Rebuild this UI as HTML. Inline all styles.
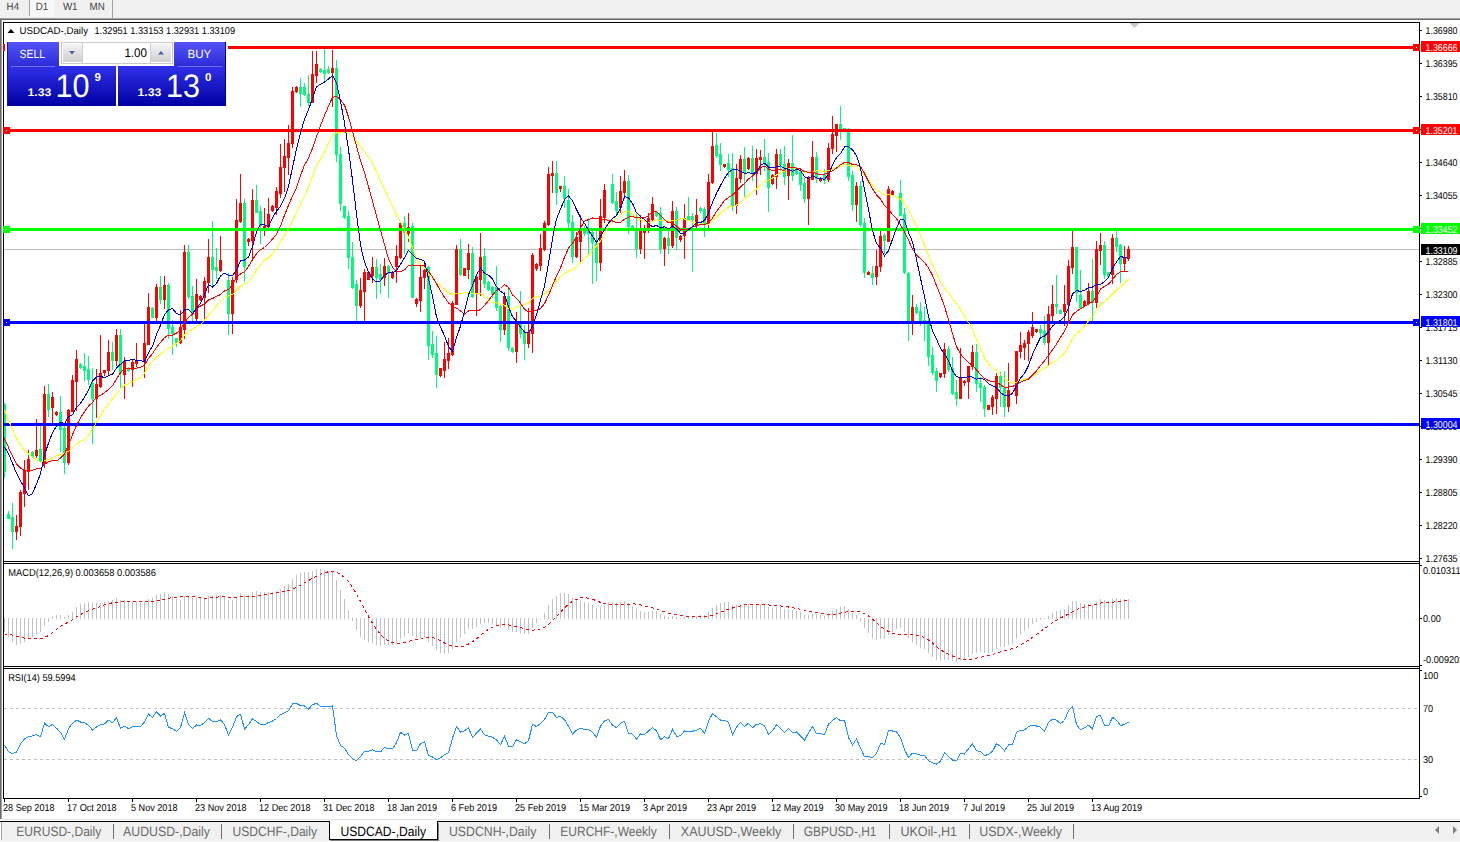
<!DOCTYPE html><html><head><meta charset="utf-8"><title>USDCAD-,Daily</title>
<style>html,body{margin:0;padding:0;background:#fff;overflow:hidden}body{width:1460px;height:842px;position:relative;font-family:"Liberation Sans",sans-serif}svg{position:absolute;left:0;top:0;display:block}text{font-family:"Liberation Sans",sans-serif;text-rendering:geometricPrecision}.ax{font-size:10px;fill:#000}.tab{font-size:13.5px;fill:#6e6e6e}.cr{shape-rendering:crispEdges}</style></head><body>
<svg width="1460" height="842" viewBox="0 0 1460 842">
<defs><linearGradient id="gb" x1="0" y1="0" x2="0" y2="1"><stop offset="0" stop-color="#5454fa"/><stop offset="1" stop-color="#2a2ad8"/></linearGradient><linearGradient id="gp" x1="0" y1="0" x2="0" y2="1"><stop offset="0" stop-color="#3030e8"/><stop offset="1" stop-color="#0000a4"/></linearGradient><linearGradient id="gs" x1="0" y1="0" x2="0" y2="1"><stop offset="0" stop-color="#f4f4f4"/><stop offset="1" stop-color="#cfcfcf"/></linearGradient></defs>
<g class="cr">
<rect x="0" y="0" width="1460" height="842" fill="#fff"/>
<rect x="0" y="0" width="1460" height="18" fill="#f0f0f0"/>
<rect x="0" y="18" width="1460" height="1" fill="#a0a0a0"/>
<rect x="0" y="19" width="1460" height="1" fill="#696969"/>
<rect x="0" y="20" width="1" height="799" fill="#696969"/>
<rect x="1" y="20" width="1" height="799" fill="#a0a0a0"/>
<rect x="29" y="0" width="1" height="16" fill="#a0a0a0"/>
<rect x="30" y="0" width="24" height="17" fill="#f8f8f8"/>
<rect x="112" y="0" width="1" height="18" fill="#a0a0a0"/>
<rect x="0" y="819" width="1460" height="1" fill="#e3e3e3"/>
<rect x="0" y="821" width="1460" height="1" fill="#000"/>
<rect x="0" y="822" width="1460" height="19" fill="#f0f0f0"/>
<rect x="4" y="249" width="1415" height="1" fill="#c0c0c0"/>
</g>
<g class="cr"><path fill="#00fa7d" d="M4 403h1v75h-1zM3 404h3v68h-3zM8 511h1v8h-1zM7 514h3v5h-3zM12 503h1v46h-1zM11 517h3v15h-3zM32 451h1v7h-1zM31 452h3v5h-3zM40 426h1v36h-1zM39 449h3v12h-3zM48 384h1v33h-1zM47 394h3v16h-3zM60 396h1v56h-1zM59 412h3v18h-3zM64 426h1v48h-1zM63 428h3v35h-3zM80 363h1v6h-1zM79 364h3v4h-3zM84 353h1v28h-1zM83 366h3v5h-3zM88 356h1v29h-1zM87 369h3v11h-3zM92 368h1v76h-1zM91 383h3v16h-3zM112 342h1v28h-1zM111 352h3v9h-3zM120 329h1v59h-1zM119 335h3v38h-3zM128 367h1v5h-1zM127 368h3v3h-3zM152 307h1v11h-1zM151 308h3v10h-3zM160 276h1v28h-1zM159 287h3v13h-3zM168 283h1v56h-1zM167 285h3v44h-3zM172 320h1v35h-1zM171 327h3v7h-3zM176 338h1v9h-1zM175 338h3v5h-3zM188 245h1v54h-1zM187 252h3v45h-3zM192 286h1v35h-1zM191 296h3v18h-3zM212 221h1v67h-1zM211 257h3v13h-3zM216 248h1v31h-1zM215 267h3v4h-3zM228 273h1v62h-1zM227 280h3v34h-3zM244 199h1v83h-1zM243 203h3v64h-3zM256 185h1v28h-1zM255 200h3v13h-3zM260 206h1v38h-1zM259 211h3v15h-3zM300 78h1v29h-1zM299 87h3v7h-3zM304 83h1v13h-1zM303 87h3v8h-3zM308 75h1v31h-1zM307 94h3v9h-3zM320 68h1v5h-1zM319 69h3v3h-3zM324 49h1v33h-1zM323 70h3v4h-3zM328 66h1v8h-1zM327 69h3v4h-3zM336 60h1v102h-1zM335 68h3v87h-3zM340 147h1v64h-1zM339 154h3v50h-3zM344 206h1v13h-1zM343 206h3v12h-3zM348 211h1v58h-1zM347 216h3v42h-3zM352 242h1v47h-1zM351 257h3v31h-3zM356 280h1v43h-1zM355 284h3v22h-3zM376 259h1v40h-1zM375 267h3v11h-3zM380 264h1v30h-1zM379 274h3v6h-3zM388 265h1v33h-1zM387 266h3v8h-3zM404 216h1v38h-1zM403 223h3v10h-3zM412 223h1v75h-1zM411 226h3v72h-3zM428 266h1v94h-1zM427 267h3v79h-3zM432 331h1v27h-1zM431 344h3v11h-3zM436 336h1v52h-1zM435 353h3v22h-3zM460 239h1v37h-1zM459 249h3v26h-3zM472 247h1v51h-1zM471 253h3v44h-3zM484 248h1v40h-1zM483 256h3v28h-3zM488 281h1v10h-1zM487 282h3v8h-3zM492 286h1v12h-1zM491 287h3v8h-3zM496 266h1v45h-1zM495 287h3v21h-3zM500 305h1v37h-1zM499 306h3v24h-3zM508 287h1v64h-1zM507 296h3v52h-3zM512 347h1v6h-1zM511 348h3v4h-3zM520 291h1v47h-1zM519 321h3v13h-3zM524 325h1v35h-1zM523 332h3v12h-3zM556 161h1v44h-1zM555 173h3v20h-3zM564 176h1v32h-1zM563 186h3v13h-3zM568 189h1v40h-1zM567 200h3v23h-3zM572 215h1v48h-1zM571 222h3v35h-3zM584 226h1v10h-1zM583 229h3v5h-3zM588 218h1v37h-1zM587 228h3v6h-3zM592 228h1v56h-1zM591 232h3v11h-3zM596 230h1v51h-1zM595 243h3v20h-3zM612 174h1v30h-1zM611 184h3v19h-3zM616 192h1v22h-1zM615 201h3v10h-3zM628 175h1v59h-1zM627 181h3v46h-3zM632 225h1v4h-1zM631 226h3v3h-3zM636 214h1v44h-1zM635 228h3v21h-3zM656 211h1v6h-1zM655 212h3v4h-3zM660 207h1v47h-1zM659 213h3v36h-3zM668 231h1v23h-1zM667 238h3v8h-3zM676 207h1v43h-1zM675 211h3v27h-3zM688 197h1v24h-1zM687 216h3v4h-3zM692 213h1v59h-1zM691 216h3v4h-3zM700 207h1v6h-1zM699 208h3v3h-3zM704 207h1v30h-1zM703 209h3v15h-3zM716 133h1v25h-1zM715 145h3v11h-3zM720 143h1v28h-1zM719 154h3v11h-3zM728 154h1v23h-1zM727 163h3v7h-3zM732 153h1v58h-1zM731 168h3v38h-3zM744 147h1v50h-1zM743 159h3v14h-3zM752 146h1v35h-1zM751 158h3v15h-3zM764 139h1v32h-1zM763 157h3v6h-3zM768 153h1v59h-1zM767 162h3v26h-3zM780 149h1v22h-1zM779 154h3v11h-3zM784 146h1v39h-1zM783 164h3v13h-3zM792 135h1v46h-1zM791 163h3v13h-3zM796 167h1v8h-1zM795 168h3v6h-3zM800 168h1v23h-1zM799 172h3v13h-3zM804 178h1v25h-1zM803 183h3v16h-3zM816 152h1v31h-1zM815 157h3v22h-3zM824 169h1v15h-1zM823 175h3v6h-3zM840 106h1v34h-1zM839 124h3v8h-3zM844 128h1v3h-1zM843 128h3v2h-3zM848 128h1v53h-1zM847 131h3v46h-3zM852 171h1v40h-1zM851 175h3v30h-3zM860 181h1v46h-1zM859 186h3v39h-3zM864 218h1v60h-1zM863 223h3v50h-3zM872 266h1v19h-1zM871 273h3v5h-3zM884 233h1v21h-1zM883 235h3v6h-3zM900 180h1v36h-1zM899 193h3v23h-3zM904 208h1v66h-1zM903 214h3v59h-3zM908 272h1v69h-1zM907 273h3v50h-3zM916 304h1v10h-1zM915 307h3v6h-3zM920 302h1v24h-1zM919 311h3v11h-3zM924 307h1v34h-1zM923 320h3v3h-3zM928 318h1v48h-1zM927 324h3v33h-3zM932 347h1v28h-1zM931 355h3v18h-3zM936 368h1v24h-1zM935 371h3v10h-3zM948 346h1v26h-1zM947 349h3v21h-3zM952 357h1v38h-1zM951 368h3v26h-3zM956 380h1v26h-1zM955 392h3v7h-3zM976 344h1v48h-1zM975 352h3v32h-3zM980 377h1v25h-1zM979 383h3v5h-3zM984 385h1v32h-1zM983 387h3v22h-3zM1000 372h1v35h-1zM999 376h3v12h-3zM1004 371h1v46h-1zM1003 388h3v19h-3zM1040 325h1v13h-1zM1039 329h3v4h-3zM1044 316h1v29h-1zM1043 331h3v12h-3zM1056 275h1v39h-1zM1055 304h3v3h-3zM1060 309h1v5h-1zM1059 310h3v4h-3zM1076 247h1v55h-1zM1075 247h3v46h-3zM1080 270h1v39h-1zM1079 295h3v13h-3zM1092 259h1v64h-1zM1091 291h3v12h-3zM1104 241h1v38h-1zM1103 245h3v30h-3zM1108 272h1v5h-1zM1107 272h3v5h-3zM1116 231h1v21h-1zM1115 238h3v9h-3zM1120 244h1v39h-1zM1119 245h3v19h-3z"/><path fill="#ff0000" d="M16 515h1v25h-1zM15 526h3v6h-3zM20 490h1v46h-1zM19 492h3v35h-3zM24 460h1v47h-1zM23 470h3v24h-3zM28 450h1v40h-1zM27 459h3v13h-3zM36 419h1v39h-1zM35 450h3v6h-3zM44 386h1v82h-1zM43 394h3v70h-3zM52 392h1v31h-1zM51 397h3v11h-3zM56 411h1v5h-1zM55 412h3v3h-3zM68 409h1v56h-1zM67 410h3v53h-3zM72 375h1v37h-1zM71 380h3v32h-3zM76 350h1v61h-1zM75 359h3v23h-3zM96 369h1v49h-1zM95 384h3v15h-3zM100 335h1v53h-1zM99 373h3v14h-3zM104 370h1v6h-1zM103 370h3v3h-3zM108 340h1v36h-1zM107 352h3v19h-3zM116 329h1v37h-1zM115 335h3v26h-3zM124 357h1v42h-1zM123 361h3v14h-3zM132 359h1v28h-1zM131 362h3v8h-3zM136 343h1v24h-1zM135 360h3v4h-3zM144 324h1v54h-1zM143 343h3v19h-3zM148 293h1v52h-1zM147 307h3v38h-3zM156 284h1v38h-1zM155 287h3v31h-3zM164 276h1v33h-1zM163 285h3v15h-3zM180 310h1v34h-1zM179 327h3v16h-3zM184 245h1v94h-1zM183 252h3v78h-3zM196 279h1v42h-1zM195 294h3v25h-3zM200 295h1v6h-1zM199 296h3v4h-3zM204 277h1v43h-1zM203 281h3v17h-3zM208 239h1v54h-1zM207 257h3v26h-3zM220 236h1v36h-1zM219 260h3v11h-3zM232 277h1v57h-1zM231 280h3v34h-3zM236 199h1v84h-1zM235 220h3v60h-3zM240 174h1v49h-1zM239 203h3v19h-3zM248 238h1v8h-1zM247 239h3v3h-3zM252 189h1v71h-1zM251 200h3v41h-3zM264 208h1v28h-1zM263 226h3v3h-3zM268 198h1v30h-1zM267 214h3v13h-3zM272 205h1v7h-1zM271 206h3v5h-3zM276 187h1v28h-1zM275 191h3v17h-3zM280 144h1v54h-1zM279 167h3v27h-3zM284 139h1v53h-1zM283 156h3v12h-3zM288 125h1v50h-1zM287 143h3v15h-3zM292 87h1v61h-1zM291 91h3v53h-3zM296 86h1v7h-1zM295 87h3v5h-3zM312 51h1v52h-1zM311 74h3v29h-3zM316 51h1v32h-1zM315 64h3v12h-3zM332 50h1v57h-1zM331 68h3v5h-3zM360 278h1v30h-1zM359 290h3v16h-3zM364 269h1v54h-1zM363 272h3v20h-3zM368 272h1v8h-1zM367 272h3v8h-3zM372 257h1v26h-1zM371 267h3v9h-3zM384 258h1v28h-1zM383 266h3v12h-3zM392 271h1v8h-1zM391 272h3v6h-3zM396 245h1v38h-1zM395 256h3v11h-3zM400 222h1v37h-1zM399 223h3v35h-3zM408 213h1v29h-1zM407 227h3v7h-3zM416 298h1v9h-1zM415 299h3v5h-3zM420 266h1v46h-1zM419 277h3v24h-3zM424 261h1v28h-1zM423 270h3v8h-3zM440 368h1v9h-1zM439 368h3v8h-3zM444 342h1v36h-1zM443 359h3v12h-3zM448 338h1v31h-1zM447 353h3v8h-3zM452 301h1v55h-1zM451 303h3v52h-3zM456 245h1v60h-1zM455 249h3v56h-3zM464 268h1v8h-1zM463 268h3v8h-3zM468 244h1v35h-1zM467 253h3v17h-3zM476 275h1v41h-1zM475 277h3v17h-3zM480 233h1v63h-1zM479 257h3v23h-3zM504 292h1v43h-1zM503 296h3v34h-3zM516 312h1v51h-1zM515 323h3v29h-3zM528 308h1v40h-1zM527 332h3v12h-3zM532 253h1v100h-1zM531 255h3v79h-3zM536 263h1v8h-1zM535 264h3v5h-3zM540 234h1v37h-1zM539 248h3v18h-3zM544 221h1v30h-1zM543 223h3v27h-3zM548 167h1v59h-1zM547 174h3v51h-3zM552 161h1v32h-1zM551 173h3v3h-3zM560 186h1v6h-1zM559 186h3v3h-3zM576 232h1v26h-1zM575 237h3v20h-3zM580 215h1v48h-1zM579 228h3v14h-3zM600 199h1v72h-1zM599 216h3v47h-3zM604 184h1v39h-1zM603 190h3v28h-3zM620 176h1v37h-1zM619 191h3v17h-3zM624 170h1v29h-1zM623 181h3v12h-3zM640 215h1v39h-1zM639 229h3v20h-3zM644 225h1v34h-1zM643 231h3v2h-3zM648 213h1v20h-1zM647 218h3v11h-3zM652 197h1v24h-1zM651 204h3v16h-3zM664 237h1v29h-1zM663 238h3v11h-3zM672 201h1v47h-1zM671 211h3v35h-3zM680 235h1v7h-1zM679 236h3v4h-3zM684 204h1v55h-1zM683 218h3v18h-3zM696 199h1v30h-1zM695 215h3v11h-3zM708 174h1v55h-1zM707 182h3v42h-3zM712 132h1v52h-1zM711 146h3v37h-3zM724 164h1v4h-1zM723 164h3v3h-3zM736 164h1v50h-1zM735 178h3v28h-3zM740 155h1v28h-1zM739 159h3v20h-3zM748 157h1v13h-1zM747 158h3v11h-3zM756 149h1v46h-1zM755 158h3v16h-3zM760 150h1v25h-1zM759 157h3v3h-3zM772 174h1v11h-1zM771 175h3v9h-3zM776 149h1v40h-1zM775 154h3v23h-3zM788 159h1v41h-1zM787 163h3v13h-3zM808 176h1v49h-1zM807 177h3v22h-3zM812 141h1v39h-1zM811 157h3v23h-3zM820 177h1v5h-1zM819 178h3v3h-3zM828 143h1v39h-1zM827 148h3v32h-3zM832 116h1v38h-1zM831 134h3v15h-3zM836 124h1v28h-1zM835 124h3v12h-3zM856 182h1v40h-1zM855 186h3v19h-3zM868 271h1v4h-1zM867 272h3v3h-3zM876 250h1v35h-1zM875 266h3v11h-3zM880 231h1v41h-1zM879 236h3v31h-3zM888 186h1v56h-1zM887 189h3v53h-3zM892 190h1v5h-1zM891 191h3v4h-3zM912 295h1v40h-1zM911 307h3v16h-3zM940 373h1v5h-1zM939 373h3v4h-3zM944 343h1v35h-1zM943 349h3v25h-3zM960 348h1v51h-1zM959 377h3v22h-3zM964 380h1v6h-1zM963 381h3v2h-3zM968 366h1v33h-1zM967 366h3v16h-3zM972 345h1v25h-1zM971 352h3v15h-3zM988 405h1v5h-1zM987 405h3v5h-3zM992 395h1v20h-1zM991 397h3v10h-3zM996 373h1v41h-1zM995 376h3v23h-3zM1008 363h1v49h-1zM1007 390h3v17h-3zM1016 351h1v53h-1zM1015 351h3v45h-3zM1020 332h1v26h-1zM1019 345h3v7h-3zM1024 340h1v20h-1zM1023 343h3v5h-3zM1028 330h1v31h-1zM1027 332h3v12h-3zM1032 312h1v26h-1zM1031 327h3v9h-3zM1036 329h1v4h-1zM1035 329h3v3h-3zM1048 306h1v60h-1zM1047 314h3v29h-3zM1052 285h1v36h-1zM1051 304h3v12h-3zM1064 285h1v41h-1zM1063 304h3v8h-3zM1068 260h1v61h-1zM1067 266h3v39h-3zM1072 231h1v43h-1zM1071 247h3v21h-3zM1084 300h1v6h-1zM1083 301h3v5h-3zM1088 283h1v22h-1zM1087 291h3v13h-3zM1096 241h1v67h-1zM1095 249h3v54h-3zM1100 233h1v32h-1zM1099 245h3v6h-3zM1112 234h1v50h-1zM1111 238h3v37h-3zM1124 246h1v25h-1zM1123 258h3v6h-3zM1128 246h1v15h-1zM1127 249h3v10h-3z"/></g>
<g class="cr">
<rect x="4" y="46" width="1415" height="3" fill="#ff0000"/>
<rect x="4" y="129" width="1415" height="3" fill="#ff0000"/>
<rect x="4" y="228" width="1415" height="3" fill="#00ff00"/>
<rect x="4" y="321" width="1415" height="3" fill="#0000ff"/>
<rect x="4" y="423" width="1415" height="3" fill="#0000ff"/>
</g>
<polyline fill="none" stroke="#ffff00" stroke-width="1" shape-rendering="crispEdges" points="4.5,410.2 8.5,419.8 12.5,429.6 16.5,438.6 20.5,445.4 24.5,450.3 28.5,454.0 32.5,456.9 36.5,459.6 40.5,462.1 44.5,460.9 48.5,459.7 52.5,457.6 56.5,455.8 60.5,454.2 64.5,453.8 68.5,451.2 72.5,447.6 76.5,443.8 80.5,441.3 84.5,439.6 88.5,435.3 92.5,429.5 96.5,422.5 100.5,415.3 104.5,409.5 108.5,403.8 112.5,399.1 116.5,393.4 120.5,389.6 124.5,384.9 128.5,383.8 132.5,381.5 136.5,379.8 140.5,377.4 144.5,373.3 148.5,365.9 152.5,361.5 156.5,357.0 160.5,354.2 164.5,350.3 168.5,348.3 172.5,346.1 176.5,343.4 180.5,340.7 184.5,334.9 188.5,331.4 192.5,329.5 196.5,326.4 200.5,324.5 204.5,320.2 208.5,315.3 212.5,310.5 216.5,306.1 220.5,301.3 224.5,297.2 228.5,295.8 232.5,294.5 236.5,289.9 240.5,285.9 244.5,284.3 248.5,282.1 252.5,276.0 256.5,270.3 260.5,264.7 264.5,259.9 268.5,258.1 272.5,253.8 276.5,248.0 280.5,241.9 284.5,235.3 288.5,228.7 292.5,220.8 296.5,212.1 300.5,203.7 304.5,195.8 308.5,187.5 312.5,176.2 316.5,165.9 320.5,158.8 324.5,152.6 328.5,143.4 332.5,135.2 336.5,133.0 340.5,132.6 344.5,132.2 348.5,133.7 352.5,137.2 356.5,141.9 360.5,146.6 364.5,151.6 368.5,157.1 372.5,163.0 376.5,171.9 380.5,181.0 384.5,189.3 388.5,197.8 392.5,205.9 396.5,214.5 400.5,222.1 404.5,229.8 408.5,237.1 412.5,247.8 416.5,258.8 420.5,264.7 424.5,267.9 428.5,274.0 432.5,278.6 436.5,282.7 440.5,285.7 444.5,289.0 448.5,292.9 452.5,294.4 456.5,293.5 460.5,293.4 464.5,292.8 468.5,292.2 472.5,293.3 476.5,293.5 480.5,293.6 484.5,296.5 488.5,299.2 492.5,302.4 496.5,302.8 500.5,304.3 504.5,305.2 508.5,308.8 512.5,309.1 516.5,307.6 520.5,305.7 524.5,304.5 528.5,303.2 532.5,298.5 536.5,296.7 540.5,296.6 544.5,294.2 548.5,289.7 552.5,285.9 556.5,281.0 560.5,276.6 564.5,273.8 568.5,270.9 572.5,269.4 576.5,266.6 580.5,262.9 584.5,258.3 588.5,255.3 592.5,250.3 596.5,246.1 600.5,241.0 604.5,234.2 608.5,226.5 612.5,220.3 616.5,218.2 620.5,214.7 624.5,211.5 628.5,211.6 632.5,214.2 636.5,217.8 640.5,219.5 644.5,221.7 648.5,222.6 652.5,221.8 656.5,219.8 660.5,220.4 664.5,220.8 668.5,221.4 672.5,220.4 676.5,220.1 680.5,218.9 684.5,219.0 688.5,220.4 692.5,222.1 696.5,222.7 700.5,222.7 704.5,224.3 708.5,224.3 712.5,220.5 716.5,217.0 720.5,213.0 724.5,209.9 728.5,207.0 732.5,206.4 736.5,205.1 740.5,202.5 744.5,198.8 748.5,195.0 752.5,191.5 756.5,189.0 760.5,185.2 764.5,181.7 768.5,180.2 772.5,178.1 776.5,175.0 780.5,172.6 784.5,171.0 788.5,168.1 792.5,167.8 796.5,169.1 800.5,170.5 804.5,172.1 808.5,172.7 812.5,172.1 816.5,170.8 820.5,170.8 824.5,171.8 828.5,170.7 832.5,169.5 836.5,167.3 840.5,166.0 844.5,164.6 848.5,165.3 852.5,166.1 856.5,166.6 860.5,170.0 864.5,175.1 868.5,179.7 872.5,185.1 876.5,189.5 880.5,192.5 884.5,195.1 888.5,194.7 892.5,195.4 896.5,197.1 900.5,198.9 904.5,203.4 908.5,210.1 912.5,217.7 916.5,226.2 920.5,235.5 924.5,244.6 928.5,255.5 932.5,264.8 936.5,273.2 940.5,282.1 944.5,288.0 948.5,292.6 952.5,298.4 956.5,304.2 960.5,309.5 964.5,316.4 968.5,322.4 972.5,330.1 976.5,339.3 980.5,348.5 984.5,357.6 988.5,364.0 992.5,367.5 996.5,370.8 1000.5,374.4 1004.5,378.5 1008.5,381.7 1012.5,383.3 1016.5,382.3 1020.5,380.6 1024.5,379.2 1028.5,378.4 1032.5,376.4 1036.5,373.3 1040.5,370.2 1044.5,368.5 1048.5,365.3 1052.5,362.4 1056.5,360.2 1060.5,356.8 1064.5,352.9 1068.5,346.1 1072.5,338.6 1076.5,333.6 1080.5,330.3 1084.5,326.2 1088.5,320.7 1092.5,316.5 1096.5,309.9 1100.5,304.8 1104.5,301.5 1108.5,298.3 1112.5,293.8 1116.5,289.9 1120.5,286.8 1124.5,283.3 1128.5,278.8"/>
<polyline fill="none" stroke="#ff0000" stroke-width="1" shape-rendering="crispEdges" points="4.5,438.5 8.5,447.5 12.5,456.3 16.5,463.9 20.5,468.1 24.5,470.1 28.5,470.7 32.5,470.3 36.5,468.9 40.5,468.5 44.5,464.1 48.5,461.9 52.5,460.3 56.5,460.9 60.5,457.9 64.5,453.9 68.5,445.2 72.5,434.8 76.5,425.3 80.5,417.9 84.5,411.6 88.5,406.1 92.5,402.4 96.5,396.9 100.5,395.4 104.5,392.6 108.5,389.4 112.5,385.7 116.5,379.0 120.5,372.6 124.5,369.1 128.5,368.4 132.5,368.6 136.5,368.1 140.5,367.4 144.5,364.9 148.5,358.4 152.5,353.6 156.5,347.4 160.5,342.4 164.5,337.6 168.5,335.3 172.5,335.1 176.5,333.0 180.5,330.6 184.5,322.1 188.5,317.4 192.5,314.1 196.5,309.3 200.5,305.9 204.5,304.1 208.5,299.8 212.5,298.5 216.5,296.4 220.5,294.6 224.5,290.9 228.5,289.4 232.5,285.0 236.5,277.4 240.5,273.9 244.5,271.7 248.5,266.4 252.5,259.7 256.5,253.7 260.5,249.7 264.5,247.5 268.5,243.6 272.5,239.0 276.5,234.1 280.5,226.4 284.5,215.1 288.5,205.4 292.5,196.1 296.5,187.9 300.5,175.5 304.5,165.1 308.5,158.1 312.5,148.3 316.5,136.8 320.5,125.7 324.5,115.6 328.5,106.1 332.5,97.3 336.5,96.4 340.5,99.7 344.5,105.0 348.5,116.9 352.5,131.1 356.5,146.3 360.5,160.3 364.5,172.4 368.5,186.6 372.5,201.1 376.5,215.8 380.5,230.5 384.5,244.4 388.5,259.0 392.5,267.4 396.5,271.2 400.5,271.6 404.5,269.9 408.5,265.6 412.5,265.0 416.5,265.6 420.5,266.0 424.5,265.9 428.5,271.4 432.5,276.9 436.5,283.7 440.5,291.0 444.5,297.1 448.5,302.9 452.5,306.3 456.5,308.1 460.5,311.1 464.5,314.1 468.5,310.9 472.5,310.7 476.5,310.7 480.5,309.8 484.5,305.4 488.5,300.7 492.5,295.0 496.5,290.6 500.5,288.5 504.5,284.4 508.5,287.6 512.5,294.9 516.5,298.4 520.5,303.0 524.5,309.4 528.5,312.0 532.5,310.4 536.5,310.9 540.5,308.4 544.5,303.7 548.5,295.1 552.5,285.6 556.5,275.8 560.5,267.9 564.5,257.3 568.5,248.1 572.5,243.3 576.5,236.4 580.5,228.2 584.5,221.1 588.5,219.6 592.5,218.0 596.5,219.0 600.5,218.5 604.5,219.6 608.5,220.3 612.5,221.0 616.5,222.7 620.5,222.2 624.5,219.3 628.5,217.1 632.5,216.5 636.5,217.9 640.5,217.6 644.5,217.5 648.5,215.8 652.5,211.6 656.5,211.6 660.5,215.7 664.5,219.7 668.5,222.8 672.5,222.9 676.5,226.1 680.5,230.1 684.5,229.5 688.5,228.9 692.5,226.8 696.5,225.8 700.5,224.3 704.5,224.6 708.5,223.1 712.5,218.1 716.5,211.5 720.5,206.2 724.5,200.4 728.5,197.4 732.5,195.1 736.5,191.0 740.5,186.8 744.5,183.4 748.5,179.1 752.5,176.0 756.5,172.3 760.5,167.6 764.5,166.1 768.5,169.1 772.5,170.5 776.5,169.8 780.5,169.8 784.5,170.3 788.5,167.3 792.5,167.1 796.5,168.1 800.5,168.9 804.5,171.8 808.5,172.1 812.5,172.1 816.5,173.6 820.5,174.7 824.5,174.2 828.5,172.3 832.5,170.9 836.5,168.0 840.5,164.8 844.5,162.4 848.5,162.4 852.5,164.6 856.5,164.8 860.5,166.6 864.5,173.4 868.5,181.6 872.5,188.7 876.5,195.0 880.5,199.0 884.5,205.6 888.5,209.5 892.5,214.3 896.5,218.8 900.5,224.9 904.5,231.8 908.5,240.2 912.5,248.9 916.5,255.1 920.5,258.6 924.5,262.2 928.5,267.9 932.5,275.4 936.5,285.7 940.5,295.2 944.5,306.6 948.5,319.4 952.5,333.6 956.5,346.6 960.5,354.1 964.5,358.4 968.5,362.6 972.5,365.4 976.5,369.9 980.5,374.5 984.5,378.2 988.5,380.6 992.5,381.8 996.5,382.0 1000.5,384.7 1004.5,387.4 1008.5,387.1 1012.5,386.5 1016.5,384.6 1020.5,382.1 1024.5,380.4 1028.5,379.0 1032.5,375.0 1036.5,370.9 1040.5,365.4 1044.5,360.9 1048.5,355.0 1052.5,349.9 1056.5,344.1 1060.5,337.4 1064.5,331.3 1068.5,322.5 1072.5,315.1 1076.5,311.3 1080.5,308.7 1084.5,306.5 1088.5,303.9 1092.5,302.0 1096.5,296.1 1100.5,289.1 1104.5,286.3 1108.5,284.3 1112.5,279.4 1116.5,274.6 1120.5,271.7 1124.5,271.1 1128.5,271.3"/>
<polyline fill="none" stroke="#0000cd" stroke-width="1" shape-rendering="crispEdges" points="4.5,446.9 8.5,453.8 12.5,463.2 16.5,473.4 20.5,480.8 24.5,487.9 28.5,495.8 32.5,493.6 36.5,483.9 40.5,473.8 44.5,454.9 48.5,443.1 52.5,432.6 56.5,425.9 60.5,422.1 64.5,423.8 68.5,416.6 72.5,414.6 76.5,407.5 80.5,403.2 84.5,397.2 88.5,390.1 92.5,380.9 96.5,377.2 100.5,376.2 104.5,377.8 108.5,375.6 112.5,374.2 116.5,367.9 120.5,364.2 124.5,360.9 128.5,360.5 132.5,359.4 136.5,360.5 140.5,360.6 144.5,361.8 148.5,352.5 152.5,346.2 156.5,334.4 160.5,325.4 164.5,314.6 168.5,309.9 172.5,308.5 176.5,313.5 180.5,314.9 184.5,309.9 188.5,309.5 192.5,313.5 196.5,308.6 200.5,303.4 204.5,294.6 208.5,284.6 212.5,287.1 216.5,283.4 220.5,275.8 224.5,273.1 228.5,275.5 232.5,275.4 236.5,270.1 240.5,260.6 244.5,260.1 248.5,257.1 252.5,246.4 256.5,231.9 260.5,224.1 264.5,224.9 268.5,226.5 272.5,217.9 276.5,211.1 280.5,206.4 284.5,198.4 288.5,186.6 292.5,167.4 296.5,149.2 300.5,133.1 304.5,119.2 308.5,109.9 312.5,98.2 316.5,86.9 320.5,84.1 324.5,82.1 328.5,79.1 332.5,75.4 336.5,82.8 340.5,101.2 344.5,123.1 348.5,149.6 352.5,180.2 356.5,213.5 360.5,245.2 364.5,262.1 368.5,271.9 372.5,279.1 376.5,281.9 380.5,280.8 384.5,275.2 388.5,272.8 392.5,272.8 396.5,270.5 400.5,264.2 404.5,257.8 408.5,250.4 412.5,254.8 416.5,258.5 420.5,259.2 424.5,261.2 428.5,278.6 432.5,296.1 436.5,317.1 440.5,327.2 444.5,335.8 448.5,346.6 452.5,351.4 456.5,337.6 460.5,326.2 464.5,311.1 468.5,294.6 472.5,285.6 476.5,274.8 480.5,268.2 484.5,273.1 488.5,275.2 492.5,278.9 496.5,286.6 500.5,291.4 504.5,294.1 508.5,306.9 512.5,316.6 516.5,321.5 520.5,327.1 524.5,332.2 528.5,332.6 532.5,326.8 536.5,314.9 540.5,300.2 544.5,285.9 548.5,263.2 552.5,238.9 556.5,218.9 560.5,209.1 564.5,199.6 568.5,195.9 572.5,200.6 576.5,209.6 580.5,217.5 584.5,223.4 588.5,230.1 592.5,236.4 596.5,242.1 600.5,236.4 604.5,229.6 608.5,223.1 612.5,218.6 616.5,215.4 620.5,208.1 624.5,196.5 628.5,197.9 632.5,203.4 636.5,212.8 640.5,216.6 644.5,219.6 648.5,223.5 652.5,226.8 656.5,225.2 660.5,228.1 664.5,226.6 668.5,228.9 672.5,226.1 676.5,228.8 680.5,233.4 684.5,233.8 688.5,229.6 692.5,226.9 696.5,222.6 700.5,222.5 704.5,220.5 708.5,212.8 712.5,202.5 716.5,193.4 720.5,185.5 724.5,178.2 728.5,172.4 732.5,169.8 736.5,169.2 740.5,171.1 744.5,173.5 748.5,172.6 752.5,173.8 756.5,172.2 760.5,165.4 764.5,163.1 768.5,167.1 772.5,167.5 776.5,166.9 780.5,165.8 784.5,168.4 788.5,169.2 792.5,171.1 796.5,169.1 800.5,170.4 804.5,176.6 808.5,178.5 812.5,175.8 816.5,177.9 820.5,178.4 824.5,179.4 828.5,174.2 832.5,165.1 836.5,157.5 840.5,153.8 844.5,146.8 848.5,146.5 852.5,149.9 856.5,155.4 860.5,168.2 864.5,189.4 868.5,209.5 872.5,230.6 876.5,243.5 880.5,248.1 884.5,255.8 888.5,250.8 892.5,239.2 896.5,228.1 900.5,219.2 904.5,220.1 908.5,232.4 912.5,241.9 916.5,259.5 920.5,278.1 924.5,296.4 928.5,316.5 932.5,330.8 936.5,339.1 940.5,348.5 944.5,353.8 948.5,360.6 952.5,370.8 956.5,376.8 960.5,377.5 964.5,377.6 968.5,376.6 972.5,377.1 976.5,379.1 980.5,378.2 984.5,379.6 988.5,383.6 992.5,385.9 996.5,387.4 1000.5,392.4 1004.5,395.6 1008.5,396.1 1012.5,393.4 1016.5,385.6 1020.5,378.2 1024.5,373.5 1028.5,365.6 1032.5,354.4 1036.5,345.6 1040.5,337.5 1044.5,336.2 1048.5,331.8 1052.5,326.2 1056.5,322.5 1060.5,320.5 1064.5,316.9 1068.5,307.5 1072.5,293.9 1076.5,290.8 1080.5,291.2 1084.5,290.5 1088.5,287.4 1092.5,287.1 1096.5,284.6 1100.5,284.4 1104.5,281.8 1108.5,277.4 1112.5,268.4 1116.5,261.9 1120.5,256.4 1124.5,257.6 1128.5,258.2"/>
<g class="cr">
<rect x="0" y="20" width="3" height="800" fill="#fff"/>
<rect x="0" y="20" width="1" height="799" fill="#696969"/>
<rect x="1" y="20" width="1" height="799" fill="#a0a0a0"/>
<rect x="3" y="22" width="1417" height="1" fill="#000"/>
<rect x="3" y="22" width="1" height="777" fill="#000"/>
<rect x="1419" y="22" width="1" height="777" fill="#000"/>
<rect x="4" y="562" width="1415" height="1" fill="#fff"/>
<rect x="4" y="667" width="1415" height="1" fill="#fff"/>
<rect x="3" y="561" width="1417" height="1" fill="#000"/>
<rect x="3" y="563" width="1417" height="1" fill="#000"/>
<rect x="3" y="666" width="1417" height="1" fill="#000"/>
<rect x="3" y="668" width="1417" height="1" fill="#000"/>
<rect x="3" y="798" width="1417" height="1" fill="#000"/>
<rect x="1420" y="30" width="2" height="1" fill="#000"/>
<rect x="1420" y="63" width="2" height="1" fill="#000"/>
<rect x="1420" y="96" width="2" height="1" fill="#000"/>
<rect x="1420" y="129" width="2" height="1" fill="#000"/>
<rect x="1420" y="162" width="2" height="1" fill="#000"/>
<rect x="1420" y="195" width="2" height="1" fill="#000"/>
<rect x="1420" y="228" width="2" height="1" fill="#000"/>
<rect x="1420" y="261" width="2" height="1" fill="#000"/>
<rect x="1420" y="294" width="2" height="1" fill="#000"/>
<rect x="1420" y="327" width="2" height="1" fill="#000"/>
<rect x="1420" y="360" width="2" height="1" fill="#000"/>
<rect x="1420" y="393" width="2" height="1" fill="#000"/>
<rect x="1420" y="426" width="2" height="1" fill="#000"/>
<rect x="1420" y="459" width="2" height="1" fill="#000"/>
<rect x="1420" y="492" width="2" height="1" fill="#000"/>
<rect x="1420" y="525" width="2" height="1" fill="#000"/>
<rect x="1420" y="558" width="2" height="1" fill="#000"/>
<rect x="4" y="799" width="1" height="3" fill="#000"/>
<rect x="68" y="799" width="1" height="3" fill="#000"/>
<rect x="132" y="799" width="1" height="3" fill="#000"/>
<rect x="196" y="799" width="1" height="3" fill="#000"/>
<rect x="260" y="799" width="1" height="3" fill="#000"/>
<rect x="324" y="799" width="1" height="3" fill="#000"/>
<rect x="388" y="799" width="1" height="3" fill="#000"/>
<rect x="452" y="799" width="1" height="3" fill="#000"/>
<rect x="516" y="799" width="1" height="3" fill="#000"/>
<rect x="580" y="799" width="1" height="3" fill="#000"/>
<rect x="644" y="799" width="1" height="3" fill="#000"/>
<rect x="708" y="799" width="1" height="3" fill="#000"/>
<rect x="772" y="799" width="1" height="3" fill="#000"/>
<rect x="836" y="799" width="1" height="3" fill="#000"/>
<rect x="900" y="799" width="1" height="3" fill="#000"/>
<rect x="964" y="799" width="1" height="3" fill="#000"/>
<rect x="1028" y="799" width="1" height="3" fill="#000"/>
<rect x="1092" y="799" width="1" height="3" fill="#000"/>
<rect x="1420" y="565" width="2" height="1" fill="#000"/>
<rect x="1420" y="618" width="2" height="1" fill="#000"/>
<rect x="1420" y="665" width="2" height="1" fill="#000"/>
<rect x="1420" y="670" width="2" height="1" fill="#000"/>
<rect x="1420" y="796" width="2" height="1" fill="#000"/>
</g>
<text class="ax" x="1425.5" y="34" textLength="32" lengthAdjust="spacingAndGlyphs">1.36980</text>
<text class="ax" x="1425.5" y="67" textLength="32" lengthAdjust="spacingAndGlyphs">1.36395</text>
<text class="ax" x="1425.5" y="100" textLength="32" lengthAdjust="spacingAndGlyphs">1.35810</text>
<text class="ax" x="1425.5" y="133" textLength="32" lengthAdjust="spacingAndGlyphs">1.35225</text>
<text class="ax" x="1425.5" y="166" textLength="32" lengthAdjust="spacingAndGlyphs">1.34640</text>
<text class="ax" x="1425.5" y="199" textLength="32" lengthAdjust="spacingAndGlyphs">1.34055</text>
<text class="ax" x="1425.5" y="232" textLength="32" lengthAdjust="spacingAndGlyphs">1.33470</text>
<text class="ax" x="1425.5" y="265" textLength="32" lengthAdjust="spacingAndGlyphs">1.32885</text>
<text class="ax" x="1425.5" y="298" textLength="32" lengthAdjust="spacingAndGlyphs">1.32300</text>
<text class="ax" x="1425.5" y="331" textLength="32" lengthAdjust="spacingAndGlyphs">1.31715</text>
<text class="ax" x="1425.5" y="364" textLength="32" lengthAdjust="spacingAndGlyphs">1.31130</text>
<text class="ax" x="1425.5" y="397" textLength="32" lengthAdjust="spacingAndGlyphs">1.30545</text>
<text class="ax" x="1425.5" y="430" textLength="32" lengthAdjust="spacingAndGlyphs">1.29960</text>
<text class="ax" x="1425.5" y="463" textLength="32" lengthAdjust="spacingAndGlyphs">1.29390</text>
<text class="ax" x="1425.5" y="496" textLength="32" lengthAdjust="spacingAndGlyphs">1.28805</text>
<text class="ax" x="1425.5" y="529" textLength="32" lengthAdjust="spacingAndGlyphs">1.28220</text>
<text class="ax" x="1425.5" y="562" textLength="32" lengthAdjust="spacingAndGlyphs">1.27635</text>
<g class="cr">
<rect x="1413" y="44" width="7" height="7" fill="#ff0000"/>
<rect x="1416" y="47" width="1" height="1" fill="#fff"/>
<rect x="1421" y="41" width="39" height="11" fill="#ff0000"/>
<rect x="1413" y="127" width="7" height="7" fill="#ff0000"/>
<rect x="1416" y="130" width="1" height="1" fill="#fff"/>
<rect x="1421" y="124" width="39" height="11" fill="#ff0000"/>
<rect x="1413" y="226" width="7" height="7" fill="#00ff00"/>
<rect x="1416" y="229" width="1" height="1" fill="#fff"/>
<rect x="1421" y="223" width="39" height="11" fill="#00ff00"/>
<rect x="1413" y="319" width="7" height="7" fill="#0000ff"/>
<rect x="1416" y="322" width="1" height="1" fill="#fff"/>
<rect x="1421" y="316" width="39" height="11" fill="#0000ff"/>
<rect x="1421" y="418" width="39" height="11" fill="#0000ff"/>
<rect x="1421" y="244" width="39" height="11" fill="#000"/>
</g>
<text class="ax" x="1425.5" y="51" style="fill:#fff" textLength="32" lengthAdjust="spacingAndGlyphs">1.36666</text>
<text class="ax" x="1425.5" y="134" style="fill:#fff" textLength="32" lengthAdjust="spacingAndGlyphs">1.35201</text>
<text class="ax" x="1425.5" y="233" style="fill:#fff" textLength="32" lengthAdjust="spacingAndGlyphs">1.33452</text>
<text class="ax" x="1425.5" y="326" style="fill:#fff" textLength="32" lengthAdjust="spacingAndGlyphs">1.31801</text>
<text class="ax" x="1425.5" y="428" style="fill:#fff" textLength="32" lengthAdjust="spacingAndGlyphs">1.30004</text>
<text class="ax" x="1425.5" y="254" style="fill:#fff" textLength="32" lengthAdjust="spacingAndGlyphs">1.33109</text>
<g class="cr">
<rect x="3" y="44" width="2" height="7" fill="#ff0000"/>
<rect x="3" y="44" width="7" height="7" fill="#ff0000"/>
<rect x="6" y="47" width="1" height="1" fill="#fff"/>
<rect x="3" y="127" width="7" height="7" fill="#ff0000"/>
<rect x="6" y="130" width="1" height="1" fill="#fff"/>
<rect x="3" y="226" width="7" height="7" fill="#00ff00"/>
<rect x="6" y="229" width="1" height="1" fill="#fff"/>
<rect x="3" y="319" width="7" height="7" fill="#0000ff"/>
<rect x="6" y="322" width="1" height="1" fill="#fff"/>
</g>
<g class="cr"><path fill="#c0c0c0" d="M4 618h1v14h-1zM8 618h1v19h-1zM12 618h1v24h-1zM16 618h1v27h-1zM20 618h1v26h-1zM24 618h1v24h-1zM28 618h1v21h-1zM32 618h1v19h-1zM36 618h1v16h-1zM40 618h1v14h-1zM44 618h1v8h-1zM48 618h1v4h-1zM52 617h1v2h-1zM56 615h1v4h-1zM60 615h1v4h-1zM64 617h1v2h-1zM68 615h1v4h-1zM72 612h1v7h-1zM76 607h1v12h-1zM80 604h1v15h-1zM84 603h1v16h-1zM88 602h1v17h-1zM92 603h1v16h-1zM96 603h1v16h-1zM100 603h1v16h-1zM104 602h1v17h-1zM108 601h1v18h-1zM112 600h1v19h-1zM116 598h1v21h-1zM120 600h1v19h-1zM124 600h1v19h-1zM128 601h1v18h-1zM132 602h1v17h-1zM136 602h1v17h-1zM140 603h1v16h-1zM144 602h1v17h-1zM148 599h1v20h-1zM152 598h1v21h-1zM156 595h1v24h-1zM160 594h1v25h-1zM164 592h1v27h-1zM168 594h1v25h-1zM172 596h1v23h-1zM176 599h1v20h-1zM180 600h1v19h-1zM184 596h1v23h-1zM188 596h1v23h-1zM192 598h1v21h-1zM196 598h1v21h-1zM200 598h1v21h-1zM204 598h1v21h-1zM208 596h1v23h-1zM212 595h1v24h-1zM216 595h1v24h-1zM220 595h1v24h-1zM224 596h1v23h-1zM228 600h1v19h-1zM232 600h1v19h-1zM236 597h1v22h-1zM240 593h1v26h-1zM244 595h1v24h-1zM248 595h1v24h-1zM252 592h1v27h-1zM256 591h1v28h-1zM260 592h1v27h-1zM264 592h1v27h-1zM268 592h1v27h-1zM272 592h1v27h-1zM276 591h1v28h-1zM280 589h1v30h-1zM284 586h1v33h-1zM288 584h1v35h-1zM292 579h1v40h-1zM296 575h1v44h-1zM300 573h1v46h-1zM304 572h1v47h-1zM308 572h1v47h-1zM312 571h1v48h-1zM316 569h1v50h-1zM320 569h1v50h-1zM324 570h1v49h-1zM328 571h1v48h-1zM332 572h1v47h-1zM336 580h1v39h-1zM340 590h1v29h-1zM344 599h1v20h-1zM348 610h1v9h-1zM352 618h1v3h-1zM356 618h1v12h-1zM360 618h1v19h-1zM364 618h1v22h-1zM368 618h1v24h-1zM372 618h1v25h-1zM376 618h1v27h-1zM380 618h1v28h-1zM384 618h1v27h-1zM388 618h1v27h-1zM392 618h1v27h-1zM396 618h1v25h-1zM400 618h1v21h-1zM404 618h1v18h-1zM408 618h1v15h-1zM412 618h1v18h-1zM416 618h1v20h-1zM420 618h1v20h-1zM424 618h1v19h-1zM428 618h1v24h-1zM432 618h1v28h-1zM436 618h1v32h-1zM440 618h1v35h-1zM444 618h1v36h-1zM448 618h1v35h-1zM452 618h1v31h-1zM456 618h1v24h-1zM460 618h1v20h-1zM464 618h1v16h-1zM468 618h1v11h-1zM472 618h1v11h-1zM476 618h1v9h-1zM480 618h1v6h-1zM484 618h1v5h-1zM488 618h1v5h-1zM492 618h1v6h-1zM496 618h1v7h-1zM500 618h1v9h-1zM504 618h1v9h-1zM508 618h1v12h-1zM512 618h1v14h-1zM516 618h1v14h-1zM520 618h1v15h-1zM524 618h1v16h-1zM528 618h1v16h-1zM532 618h1v10h-1zM536 618h1v5h-1zM540 618h1v1h-1zM544 613h1v6h-1zM548 605h1v14h-1zM552 599h1v20h-1zM556 596h1v23h-1zM560 593h1v26h-1zM564 593h1v26h-1zM568 594h1v25h-1zM572 598h1v21h-1zM576 600h1v19h-1zM580 601h1v18h-1zM584 602h1v17h-1zM588 603h1v16h-1zM592 605h1v14h-1zM596 608h1v11h-1zM600 607h1v12h-1zM604 605h1v14h-1zM608 602h1v17h-1zM612 602h1v17h-1zM616 603h1v16h-1zM620 602h1v17h-1zM624 601h1v18h-1zM628 603h1v16h-1zM632 606h1v13h-1zM636 609h1v10h-1zM640 611h1v8h-1zM644 612h1v7h-1zM648 612h1v7h-1zM652 611h1v8h-1zM656 611h1v8h-1zM660 614h1v5h-1zM664 616h1v3h-1zM668 617h1v2h-1zM672 616h1v3h-1zM676 617h1v2h-1zM680 618h1v1h-1zM684 617h1v2h-1zM688 616h1v3h-1zM692 616h1v3h-1zM696 616h1v3h-1zM700 615h1v4h-1zM704 615h1v4h-1zM708 612h1v7h-1zM712 608h1v11h-1zM716 605h1v14h-1zM720 603h1v16h-1zM724 602h1v17h-1zM728 602h1v17h-1zM732 605h1v14h-1zM736 605h1v14h-1zM740 604h1v15h-1zM744 604h1v15h-1zM748 604h1v15h-1zM752 604h1v15h-1zM756 604h1v15h-1zM760 604h1v15h-1zM764 604h1v15h-1zM768 607h1v12h-1zM772 608h1v11h-1zM776 607h1v12h-1zM780 607h1v12h-1zM784 609h1v10h-1zM788 609h1v10h-1zM792 610h1v9h-1zM796 611h1v8h-1zM800 612h1v7h-1zM804 615h1v4h-1zM808 615h1v4h-1zM812 614h1v5h-1zM816 614h1v5h-1zM820 615h1v4h-1zM824 616h1v3h-1zM828 614h1v5h-1zM832 611h1v8h-1zM836 609h1v10h-1zM840 607h1v12h-1zM844 606h1v13h-1zM848 609h1v10h-1zM852 613h1v6h-1zM856 615h1v4h-1zM860 618h1v3h-1zM864 618h1v10h-1zM868 618h1v15h-1zM872 618h1v20h-1zM876 618h1v22h-1zM880 618h1v21h-1zM884 618h1v21h-1zM888 618h1v17h-1zM892 618h1v14h-1zM896 618h1v11h-1zM900 618h1v10h-1zM904 618h1v14h-1zM908 618h1v20h-1zM912 618h1v24h-1zM916 618h1v27h-1zM920 618h1v30h-1zM924 618h1v31h-1zM928 618h1v35h-1zM932 618h1v39h-1zM936 618h1v42h-1zM940 618h1v43h-1zM944 618h1v42h-1zM948 618h1v42h-1zM952 618h1v43h-1zM956 618h1v44h-1zM960 618h1v43h-1zM964 618h1v42h-1zM968 618h1v39h-1zM972 618h1v36h-1zM976 618h1v35h-1zM980 618h1v34h-1zM984 618h1v35h-1zM988 618h1v35h-1zM992 618h1v34h-1zM996 618h1v31h-1zM1000 618h1v29h-1zM1004 618h1v29h-1zM1008 618h1v27h-1zM1012 618h1v26h-1zM1016 618h1v21h-1zM1020 618h1v17h-1zM1024 618h1v13h-1zM1028 618h1v10h-1zM1032 618h1v6h-1zM1036 618h1v4h-1zM1040 618h1v2h-1zM1044 618h1v1h-1zM1048 616h1v3h-1zM1052 613h1v6h-1zM1056 611h1v8h-1zM1060 610h1v9h-1zM1064 609h1v10h-1zM1068 605h1v14h-1zM1072 601h1v18h-1zM1076 601h1v18h-1zM1080 603h1v16h-1zM1084 604h1v15h-1zM1088 604h1v15h-1zM1092 605h1v14h-1zM1096 602h1v17h-1zM1100 599h1v20h-1zM1104 600h1v19h-1zM1108 601h1v18h-1zM1112 599h1v20h-1zM1116 598h1v21h-1zM1120 599h1v20h-1zM1124 599h1v20h-1zM1128 599h1v20h-1z"/></g>
<polyline fill="none" stroke="#ff0000" stroke-width="1" shape-rendering="crispEdges" stroke-dasharray="3 3" points="4.5,634.0 8.5,634.3 12.5,635.1 16.5,636.2 20.5,637.3 24.5,638.1 28.5,638.6 32.5,638.8 36.5,638.7 40.5,638.8 44.5,637.6 48.5,635.4 52.5,632.5 56.5,629.4 60.5,626.5 64.5,624.1 68.5,621.9 72.5,619.5 76.5,616.8 80.5,614.5 84.5,612.4 88.5,610.7 92.5,609.3 96.5,608.0 100.5,606.3 104.5,604.9 108.5,603.6 112.5,602.8 116.5,602.1 120.5,601.8 124.5,601.6 128.5,601.4 132.5,601.2 136.5,601.2 140.5,601.3 144.5,601.5 148.5,601.4 152.5,601.4 156.5,600.9 160.5,600.2 164.5,599.2 168.5,598.3 172.5,597.6 176.5,597.2 180.5,597.0 184.5,596.6 188.5,596.4 192.5,596.7 196.5,597.1 200.5,597.8 204.5,598.1 208.5,598.1 212.5,597.6 216.5,597.1 220.5,596.9 224.5,596.9 228.5,597.1 232.5,597.4 236.5,597.3 240.5,596.8 244.5,596.7 248.5,596.7 252.5,596.3 256.5,595.9 260.5,595.4 264.5,594.6 268.5,593.7 272.5,593.2 276.5,592.9 280.5,592.2 284.5,591.3 288.5,590.4 292.5,589.1 296.5,587.2 300.5,585.1 304.5,582.8 308.5,580.5 312.5,578.3 316.5,576.1 320.5,574.2 324.5,572.6 328.5,571.8 332.5,571.5 336.5,572.3 340.5,574.4 344.5,577.4 348.5,581.7 352.5,587.4 356.5,594.0 360.5,601.3 364.5,608.8 368.5,616.5 372.5,623.4 376.5,629.4 380.5,634.5 384.5,638.3 388.5,641.0 392.5,642.6 396.5,643.3 400.5,643.2 404.5,642.4 408.5,641.3 412.5,640.3 416.5,639.4 420.5,638.6 424.5,637.7 428.5,637.3 432.5,637.6 436.5,638.9 440.5,640.8 444.5,643.0 448.5,645.0 452.5,646.3 456.5,646.7 460.5,646.8 464.5,645.9 468.5,644.0 472.5,641.7 476.5,638.8 480.5,635.5 484.5,632.2 488.5,629.3 492.5,627.3 496.5,625.8 500.5,625.1 504.5,624.9 508.5,625.0 512.5,625.6 516.5,626.6 520.5,627.6 524.5,628.8 528.5,629.9 532.5,630.2 536.5,629.8 540.5,628.9 544.5,627.2 548.5,624.2 552.5,620.6 556.5,616.6 560.5,612.3 564.5,607.8 568.5,604.2 572.5,601.4 576.5,599.4 580.5,598.0 584.5,597.7 588.5,598.2 592.5,599.2 596.5,600.8 600.5,602.4 604.5,603.6 608.5,604.1 612.5,604.4 616.5,604.6 620.5,604.6 624.5,604.3 628.5,604.1 632.5,603.9 636.5,604.1 640.5,604.8 644.5,605.8 648.5,607.0 652.5,607.9 656.5,609.0 660.5,610.5 664.5,611.8 668.5,613.1 672.5,613.9 676.5,614.6 680.5,615.2 684.5,615.8 688.5,616.3 692.5,616.8 696.5,617.0 700.5,616.9 704.5,616.7 708.5,616.3 712.5,615.2 716.5,613.8 720.5,612.3 724.5,610.8 728.5,609.2 732.5,608.0 736.5,607.0 740.5,605.8 744.5,604.9 748.5,604.4 752.5,604.4 756.5,604.4 760.5,604.6 764.5,604.8 768.5,605.0 772.5,605.3 776.5,605.6 780.5,605.9 784.5,606.5 788.5,607.0 792.5,607.7 796.5,608.4 800.5,609.3 804.5,610.2 808.5,611.0 812.5,611.8 816.5,612.6 820.5,613.2 824.5,614.0 828.5,614.4 832.5,614.5 836.5,614.0 840.5,613.2 844.5,612.3 848.5,611.7 852.5,611.6 856.5,611.7 860.5,612.1 864.5,613.6 868.5,615.9 872.5,619.0 876.5,622.5 880.5,626.1 884.5,629.3 888.5,631.6 892.5,633.3 896.5,634.2 900.5,634.3 904.5,634.1 908.5,634.2 912.5,634.4 916.5,635.1 920.5,636.0 924.5,637.6 928.5,640.0 932.5,643.1 936.5,646.6 940.5,649.8 944.5,652.2 948.5,654.2 952.5,656.0 956.5,657.6 960.5,658.9 964.5,659.6 968.5,659.7 972.5,659.0 976.5,658.2 980.5,657.3 984.5,656.5 988.5,655.6 992.5,654.4 996.5,653.1 1000.5,651.7 1004.5,650.5 1008.5,649.6 1012.5,648.5 1016.5,647.1 1020.5,645.1 1024.5,642.7 1028.5,640.1 1032.5,637.4 1036.5,634.5 1040.5,631.5 1044.5,628.7 1048.5,625.7 1052.5,622.9 1056.5,620.3 1060.5,618.0 1064.5,616.0 1068.5,614.0 1072.5,611.8 1076.5,609.8 1080.5,608.1 1084.5,606.7 1088.5,605.7 1092.5,605.0 1096.5,604.1 1100.5,603.1 1104.5,602.5 1108.5,602.5 1112.5,602.2 1116.5,601.7 1120.5,601.1 1124.5,600.7 1128.5,600.0"/>
<g class="cr">
<path stroke="#c0c0c0" stroke-width="1" stroke-dasharray="3 3" d="M4 708.5H1419"/>
<path stroke="#c0c0c0" stroke-width="1" stroke-dasharray="3 3" d="M4 759.5H1419"/>
</g>
<polyline fill="none" stroke="#1e90ff" stroke-width="1" shape-rendering="crispEdges" points="4.5,744.8 8.5,751.8 12.5,753.6 16.5,752.3 20.5,743.9 24.5,739.0 28.5,736.6 32.5,735.9 36.5,734.5 40.5,736.9 44.5,723.1 48.5,726.7 52.5,724.4 56.5,728.2 60.5,732.2 64.5,739.4 68.5,728.6 72.5,723.4 76.5,720.1 80.5,722.0 84.5,722.8 88.5,725.1 92.5,730.0 96.5,727.0 100.5,724.7 104.5,724.0 108.5,720.2 112.5,722.8 116.5,717.5 120.5,728.5 124.5,726.1 128.5,728.6 132.5,726.7 136.5,726.2 140.5,726.5 144.5,721.8 148.5,713.9 152.5,717.6 156.5,711.7 160.5,716.1 164.5,713.4 168.5,727.3 172.5,728.7 176.5,731.3 180.5,727.4 184.5,712.9 188.5,724.6 192.5,728.6 196.5,725.0 200.5,725.5 204.5,722.6 208.5,718.2 212.5,721.7 216.5,721.9 220.5,719.9 224.5,724.6 228.5,735.0 232.5,727.4 236.5,716.7 240.5,714.2 244.5,729.0 248.5,724.6 252.5,718.9 256.5,721.5 260.5,724.4 264.5,724.6 268.5,722.5 272.5,721.1 276.5,718.5 280.5,714.5 284.5,712.8 288.5,710.8 292.5,703.9 296.5,703.5 300.5,705.5 304.5,705.9 308.5,708.9 312.5,704.7 316.5,703.3 320.5,706.1 324.5,706.9 328.5,706.7 332.5,706.0 336.5,735.3 340.5,745.6 344.5,748.1 348.5,754.5 352.5,758.6 356.5,760.8 360.5,756.4 364.5,751.2 368.5,751.2 372.5,749.7 376.5,751.6 380.5,752.0 384.5,747.5 388.5,749.0 392.5,748.7 396.5,742.7 400.5,732.3 404.5,735.0 408.5,733.5 412.5,750.3 416.5,750.7 420.5,743.7 424.5,741.6 428.5,755.6 432.5,757.0 436.5,759.8 440.5,757.8 444.5,754.8 448.5,752.8 452.5,738.1 456.5,726.5 460.5,732.1 464.5,730.9 468.5,727.8 472.5,737.3 476.5,733.2 480.5,729.2 484.5,734.8 488.5,736.1 492.5,737.2 496.5,740.1 500.5,744.7 504.5,736.2 508.5,746.0 512.5,746.7 516.5,739.7 520.5,741.7 524.5,743.7 528.5,740.7 532.5,724.4 536.5,726.5 540.5,723.6 544.5,719.4 548.5,712.3 552.5,712.2 556.5,717.3 560.5,716.4 564.5,719.8 568.5,726.2 572.5,734.2 576.5,730.2 580.5,728.3 584.5,729.6 588.5,729.6 592.5,732.1 596.5,737.4 600.5,726.2 604.5,721.0 608.5,719.5 612.5,725.3 616.5,727.5 620.5,723.4 624.5,721.2 628.5,733.6 632.5,734.1 636.5,739.0 640.5,734.0 644.5,734.5 648.5,731.0 652.5,727.5 656.5,730.8 660.5,739.7 664.5,736.8 668.5,738.7 672.5,729.3 676.5,736.2 680.5,735.9 684.5,731.0 688.5,731.3 692.5,731.3 696.5,730.1 700.5,728.5 704.5,733.3 708.5,721.3 712.5,713.5 716.5,716.8 720.5,720.1 724.5,720.1 728.5,722.1 732.5,734.6 736.5,727.0 740.5,722.4 744.5,726.7 748.5,723.2 752.5,727.8 756.5,724.2 760.5,723.9 764.5,725.8 768.5,734.5 772.5,730.7 776.5,724.7 780.5,728.2 784.5,732.3 788.5,728.3 792.5,732.5 796.5,731.9 800.5,735.8 804.5,740.4 808.5,732.8 812.5,726.6 816.5,733.8 820.5,733.8 824.5,734.5 828.5,724.2 832.5,720.4 836.5,717.8 840.5,720.8 844.5,720.2 848.5,737.5 852.5,745.0 856.5,739.1 860.5,748.1 864.5,756.7 868.5,756.7 872.5,757.5 876.5,753.5 880.5,743.5 884.5,744.4 888.5,730.5 892.5,731.0 896.5,731.9 900.5,737.6 904.5,749.7 908.5,757.4 912.5,753.1 916.5,753.9 920.5,755.3 924.5,755.5 928.5,760.7 932.5,762.9 936.5,764.0 940.5,761.4 944.5,752.7 948.5,756.3 952.5,760.1 956.5,760.8 960.5,753.2 964.5,754.0 968.5,748.7 972.5,743.9 976.5,750.7 980.5,751.5 984.5,755.6 988.5,754.4 992.5,751.3 996.5,743.6 1000.5,746.4 1004.5,750.8 1008.5,745.0 1012.5,744.6 1016.5,732.2 1020.5,730.5 1024.5,729.9 1028.5,726.7 1032.5,725.2 1036.5,726.0 1040.5,727.3 1044.5,731.5 1048.5,722.2 1052.5,719.3 1056.5,720.2 1060.5,723.5 1064.5,720.5 1068.5,710.4 1072.5,706.5 1076.5,724.7 1080.5,729.6 1084.5,727.9 1088.5,725.2 1092.5,729.1 1096.5,716.3 1100.5,715.5 1104.5,725.3 1108.5,725.9 1112.5,717.4 1116.5,720.1 1120.5,725.6 1124.5,724.4 1128.5,722.2"/>
<g class="cr">
<rect x="3" y="22" width="1" height="22" fill="#000"/>
<rect x="3" y="51" width="1" height="76" fill="#000"/>
<rect x="3" y="134" width="1" height="92" fill="#000"/>
<rect x="3" y="233" width="1" height="86" fill="#000"/>
<rect x="3" y="326" width="1" height="473" fill="#000"/>
</g>
<text x="3.0" y="811" font-size="10" fill="#000" textLength="51.6" lengthAdjust="spacingAndGlyphs">28 Sep 2018</text>
<text x="67.0" y="811" font-size="10" fill="#000" textLength="49.6" lengthAdjust="spacingAndGlyphs">17 Oct 2018</text>
<text x="131.0" y="811" font-size="10" fill="#000" textLength="46.5" lengthAdjust="spacingAndGlyphs">5 Nov 2018</text>
<text x="195.0" y="811" font-size="10" fill="#000" textLength="51.6" lengthAdjust="spacingAndGlyphs">23 Nov 2018</text>
<text x="259.0" y="811" font-size="10" fill="#000" textLength="51.6" lengthAdjust="spacingAndGlyphs">12 Dec 2018</text>
<text x="323.0" y="811" font-size="10" fill="#000" textLength="51.6" lengthAdjust="spacingAndGlyphs">31 Dec 2018</text>
<text x="387.0" y="811" font-size="10" fill="#000" textLength="50.1" lengthAdjust="spacingAndGlyphs">18 Jan 2019</text>
<text x="451.0" y="811" font-size="10" fill="#000" textLength="46.0" lengthAdjust="spacingAndGlyphs">6 Feb 2019</text>
<text x="515.0" y="811" font-size="10" fill="#000" textLength="51.1" lengthAdjust="spacingAndGlyphs">25 Feb 2019</text>
<text x="579.0" y="811" font-size="10" fill="#000" textLength="51.1" lengthAdjust="spacingAndGlyphs">15 Mar 2019</text>
<text x="643.0" y="811" font-size="10" fill="#000" textLength="44.0" lengthAdjust="spacingAndGlyphs">3 Apr 2019</text>
<text x="707.0" y="811" font-size="10" fill="#000" textLength="49.1" lengthAdjust="spacingAndGlyphs">23 Apr 2019</text>
<text x="771.0" y="811" font-size="10" fill="#000" textLength="52.6" lengthAdjust="spacingAndGlyphs">12 May 2019</text>
<text x="835.0" y="811" font-size="10" fill="#000" textLength="52.6" lengthAdjust="spacingAndGlyphs">30 May 2019</text>
<text x="899.0" y="811" font-size="10" fill="#000" textLength="50.1" lengthAdjust="spacingAndGlyphs">18 Jun 2019</text>
<text x="963.0" y="811" font-size="10" fill="#000" textLength="42.0" lengthAdjust="spacingAndGlyphs">7 Jul 2019</text>
<text x="1027.0" y="811" font-size="10" fill="#000" textLength="47.1" lengthAdjust="spacingAndGlyphs">25 Jul 2019</text>
<text x="1091.0" y="811" font-size="10" fill="#000" textLength="51.1" lengthAdjust="spacingAndGlyphs">13 Aug 2019</text>
<text x="1423.0" y="574" font-size="10" fill="#000" textLength="37.6" lengthAdjust="spacingAndGlyphs">0.010311</text>
<text x="1423.0" y="622" font-size="10" fill="#000" textLength="17.8" lengthAdjust="spacingAndGlyphs">0.00</text>
<text x="1423.0" y="663" font-size="10" fill="#000" textLength="41.3" lengthAdjust="spacingAndGlyphs">-0.009203</text>
<text x="1423.0" y="679" font-size="10" fill="#000" textLength="15.3" lengthAdjust="spacingAndGlyphs">100</text>
<text x="1423.0" y="712" font-size="10" fill="#000" textLength="10.2" lengthAdjust="spacingAndGlyphs">70</text>
<text x="1423.0" y="763" font-size="10" fill="#000" textLength="10.2" lengthAdjust="spacingAndGlyphs">30</text>
<text x="1423.0" y="795" font-size="10" fill="#000" textLength="5.1" lengthAdjust="spacingAndGlyphs">0</text>
<text x="8.2" y="576" font-size="10" fill="#000" textLength="147.8" lengthAdjust="spacingAndGlyphs">MACD(12,26,9) 0.003658 0.003586</text>
<text x="8.2" y="681" font-size="10" fill="#000" textLength="67.5" lengthAdjust="spacingAndGlyphs">RSI(14) 59.5994</text>
<text x="19.5" y="34" font-size="10" fill="#000" textLength="68.5" lengthAdjust="spacingAndGlyphs">USDCAD-,Daily</text>
<text x="94.5" y="34" font-size="10" fill="#000" textLength="140.5" lengthAdjust="spacingAndGlyphs">1.32951 1.33153 1.32931 1.33109</text>
<path d="M7.5 33L11 29L14.5 33z" fill="#000"/>
<path d="M1129.5 23h10l-5 5z" fill="#c8c8c8"/>
<text x="6.6" y="10" font-size="10.5" fill="#444" textLength="12.5" lengthAdjust="spacingAndGlyphs">H4</text>
<text x="35.7" y="10" font-size="10.5" fill="#444" textLength="12.5" lengthAdjust="spacingAndGlyphs">D1</text>
<text x="62.9" y="10" font-size="10.5" fill="#444" textLength="14.6" lengthAdjust="spacingAndGlyphs">W1</text>
<text x="89.6" y="10" font-size="10.5" fill="#444" textLength="15.2" lengthAdjust="spacingAndGlyphs">MN</text>
<g class="cr">
<rect x="5" y="42" width="223" height="25" fill="#fff"/>
<rect x="7" y="42" width="52" height="25" fill="url(#gb)"/>
<rect x="174" y="42" width="52" height="25" fill="url(#gb)"/>
<rect x="7" y="66" width="109" height="40" fill="url(#gp)"/>
<rect x="118" y="66" width="108" height="40" fill="url(#gp)"/>
<rect x="11" y="66" width="44" height="1" fill="#7070ff"/>
<rect x="178" y="66" width="44" height="1" fill="#7070ff"/>
<rect x="7" y="42" width="1" height="64" fill="#1010c0"/>
<rect x="225" y="42" width="1" height="64" fill="#0000a0"/>
<rect x="61" y="42" width="112" height="22" fill="#c8c8c8"/>
<rect x="62" y="43" width="110" height="20" fill="#fff"/>
<rect x="63" y="44" width="19" height="18" fill="url(#gs)"/>
<rect x="151" y="44" width="20" height="18" fill="url(#gs)"/>
<rect x="82" y="43" width="1" height="20" fill="#d0d0d0"/>
<rect x="150" y="43" width="1" height="20" fill="#d0d0d0"/>
</g>
<path d="M69 51h6l-3 3.5z" fill="#4a5fb0"/><path d="M158 54.5h6l-3 -3.5z" fill="#4a5fb0"/>
<text x="19.5" y="58" font-size="12" fill="#fff" textLength="25.5" lengthAdjust="spacingAndGlyphs">SELL</text>
<text x="187.5" y="58" font-size="12" fill="#fff" textLength="23.8" lengthAdjust="spacingAndGlyphs">BUY</text>
<text x="124.4" y="57" font-size="12.5" fill="#000" textLength="22.6" lengthAdjust="spacingAndGlyphs">1.00</text>
<text x="27.5" y="96" font-size="11" font-weight="bold" fill="#fff" textLength="23.8" lengthAdjust="spacingAndGlyphs">1.33</text>
<text x="137.5" y="96" font-size="11" font-weight="bold" fill="#fff" textLength="23.8" lengthAdjust="spacingAndGlyphs">1.33</text>
<text x="55.5" y="96.5" font-size="32.5" fill="#fff" textLength="34" lengthAdjust="spacingAndGlyphs">10</text>
<text x="166" y="96.5" font-size="32.5" fill="#fff" textLength="34" lengthAdjust="spacingAndGlyphs">13</text>
<text x="94.5" y="81" font-size="11.5" fill="#fff" textLength="6.4" lengthAdjust="spacingAndGlyphs" font-weight="bold">9</text>
<text x="205.0" y="81" font-size="11.5" fill="#fff" textLength="6.4" lengthAdjust="spacingAndGlyphs" font-weight="bold">0</text>
<g class="cr">
<rect x="329" y="821" width="109" height="19" fill="#fff"/>
<rect x="329" y="821" width="1" height="19" fill="#000"/>
<rect x="437" y="821" width="1" height="19" fill="#000"/>
<rect x="329" y="839" width="109" height="1" fill="#000"/>
<rect x="330" y="840" width="109" height="1" fill="#808080"/>
<rect x="438" y="823" width="1" height="18" fill="#808080"/>
<rect x="0" y="822" width="1" height="18" fill="#fff"/>
<rect x="1" y="822" width="1" height="18" fill="#a0a0a0"/>
<rect x="113" y="824" width="1" height="15" fill="#707070"/>
<rect x="221" y="824" width="1" height="15" fill="#707070"/>
<rect x="549" y="824" width="1" height="15" fill="#707070"/>
<rect x="669" y="824" width="1" height="15" fill="#707070"/>
<rect x="793" y="824" width="1" height="15" fill="#707070"/>
<rect x="889" y="824" width="1" height="15" fill="#707070"/>
<rect x="969" y="824" width="1" height="15" fill="#707070"/>
<rect x="1073" y="824" width="1" height="15" fill="#707070"/>
<rect x="0" y="841" width="1460" height="1" fill="#fbfbfb"/>
</g>
<text x="16.3" y="836" font-size="13.5" fill="#6a6a6a" textLength="84.9" lengthAdjust="spacingAndGlyphs">EURUSD-,Daily</text>
<text x="123" y="836" font-size="13.5" fill="#6a6a6a" textLength="87.0" lengthAdjust="spacingAndGlyphs">AUDUSD-,Daily</text>
<text x="232.5" y="836" font-size="13.5" fill="#6a6a6a" textLength="84.5" lengthAdjust="spacingAndGlyphs">USDCHF-,Daily</text>
<text x="340.4" y="836" font-size="13.5" fill="#000" textLength="85.6" lengthAdjust="spacingAndGlyphs">USDCAD-,Daily</text>
<text x="449" y="836" font-size="13.5" fill="#6a6a6a" textLength="87.3" lengthAdjust="spacingAndGlyphs">USDCNH-,Daily</text>
<text x="560.3" y="836" font-size="13.5" fill="#6a6a6a" textLength="96.5" lengthAdjust="spacingAndGlyphs">EURCHF-,Weekly</text>
<text x="680.8" y="836" font-size="13.5" fill="#6a6a6a" textLength="100.4" lengthAdjust="spacingAndGlyphs">XAUUSD-,Weekly</text>
<text x="803.8" y="836" font-size="13.5" fill="#6a6a6a" textLength="72.6" lengthAdjust="spacingAndGlyphs">GBPUSD-,H1</text>
<text x="900.4" y="836" font-size="13.5" fill="#6a6a6a" textLength="56.6" lengthAdjust="spacingAndGlyphs">UKOil-,H1</text>
<text x="979.2" y="836" font-size="13.5" fill="#6a6a6a" textLength="82.8" lengthAdjust="spacingAndGlyphs">USDX-,Weekly</text>
<path d="M1439 826v8l-4 -4z" fill="#808080"/><path d="M1453 826v8l4 -4z" fill="#808080"/>
</svg></body></html>
